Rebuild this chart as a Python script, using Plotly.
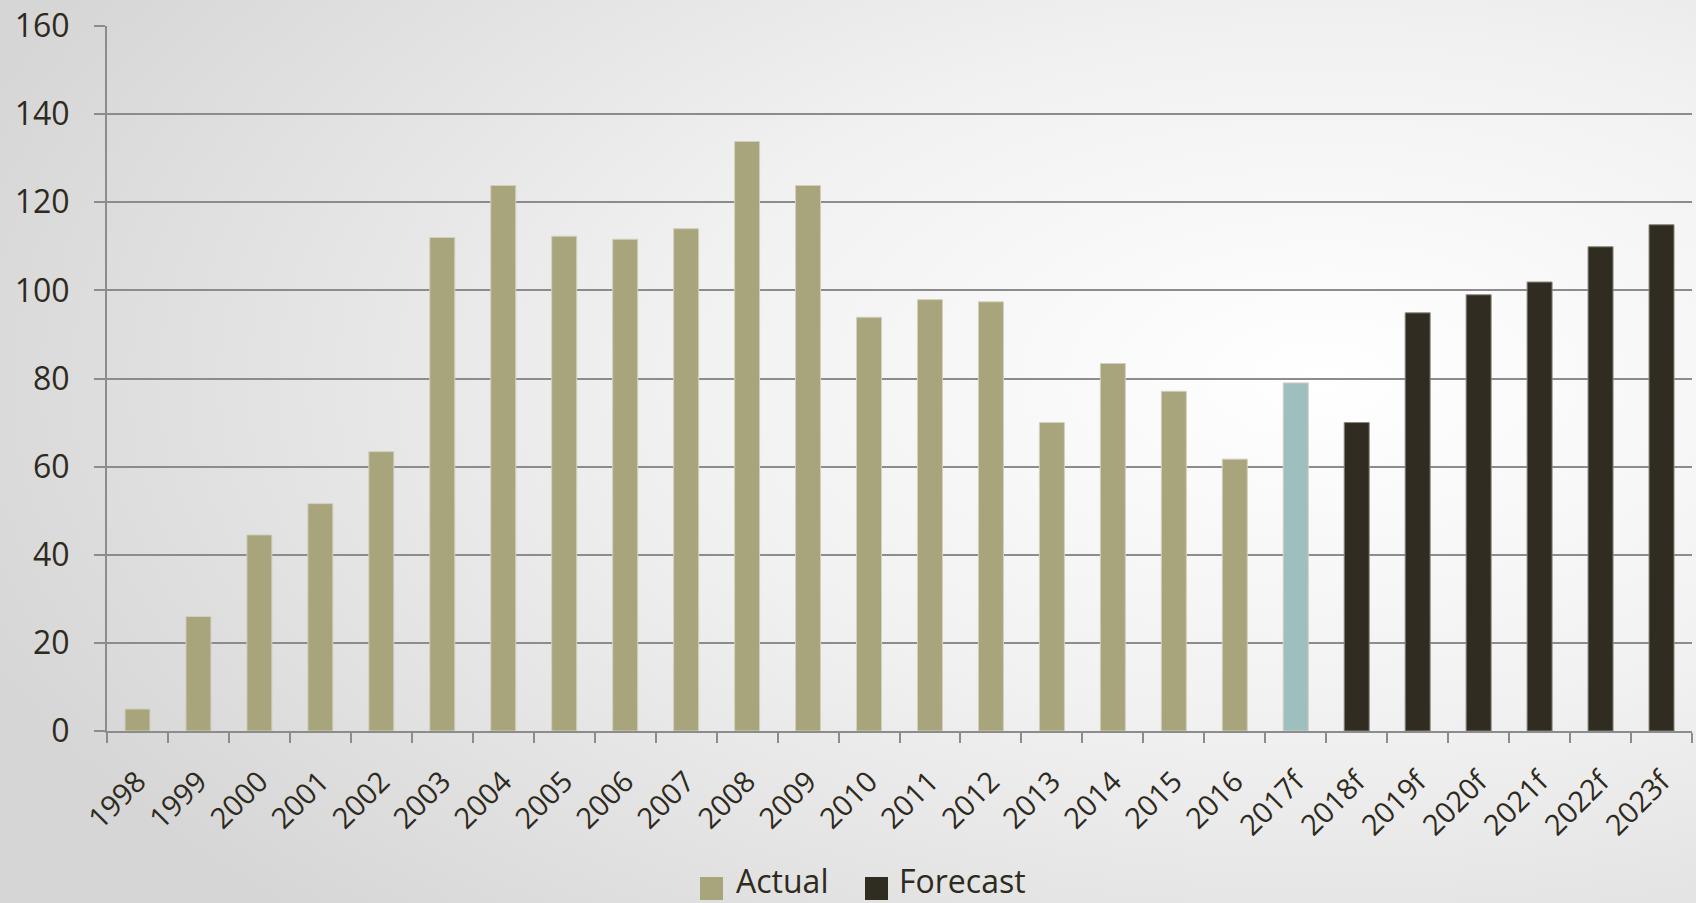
import base64
import plotly.graph_objects as go

categories = ["1998", "1999", "2000", "2001", "2002", "2003", "2004", "2005", "2006",
              "2007", "2008", "2009", "2010", "2011", "2012", "2013", "2014", "2015",
              "2016", "2017f", "2018f", "2019f", "2020f", "2021f", "2022f", "2023f"]

actual_cats = categories[:20]
actual_vals = [5, 26, 44.5, 51.6, 63.4, 112, 123.8, 112.3, 111.6, 114, 133.8, 123.8,
               93.9, 97.9, 97.4, 70, 83.4, 77.1, 61.7, 79]
forecast_cats = categories[20:]
forecast_vals = [70, 94.9, 99, 101.9, 109.9, 114.9]

y_ticks = [0, 20, 40, 60, 80, 100, 120, 140, 160]
legend_names = ["Actual", "Forecast"]

ACTUAL = "#a8a47c"
EST = "#9dbfbe"
FORE = "#302c21"
TXT = "#2e2a20"
GRID = "#8c8c8c"

actual_colors = [ACTUAL] * (len(actual_cats) - 1) + [EST]

svg = """<svg xmlns='http://www.w3.org/2000/svg' width='1696' height='903' viewBox='0 0 1696 903' preserveAspectRatio='none'>
<defs><radialGradient id='g' cx='0.78' cy='0.42' r='0.85' gradientUnits='objectBoundingBox'>
<stop offset='0' stop-color='#ffffff'/>
<stop offset='0.45' stop-color='#f1f1f1'/>
<stop offset='1' stop-color='#d6d6d6'/>
</radialGradient></defs>
<rect width='1696' height='903' fill='url(#g)'/></svg>"""
bg_uri = "data:image/svg+xml;base64," + base64.b64encode(svg.encode()).decode()

fig = go.Figure()
fig.add_trace(go.Bar(
    x=actual_cats, y=actual_vals, name="Actual", showlegend=False,
    marker=dict(color=actual_colors, line=dict(color="#d2d0bd", width=1)),
))
fig.add_trace(go.Bar(
    x=forecast_cats, y=forecast_vals, name="Forecast", showlegend=False,
    marker=dict(color=FORE, line=dict(color="#8a877c", width=1)),
))

L, R, T, B = 107, 4, 26, 172
W, H = 1696, 903
pw, ph = W - L - R, H - T - B


def px_x(px):
    return (px - L) / pw


def px_y(py):
    return (H - B - py) / ph


# manual legend (large square swatches)
legend_items = [(legend_names[0], ACTUAL, 700, 735), (legend_names[1], FORE, 865, 898)]
shapes = []
annotations = []
for name, color, sq_x, tx_x in legend_items:
    shapes.append(dict(
        type="rect", xref="paper", yref="paper",
        x0=px_x(sq_x), x1=px_x(sq_x + 23), y0=px_y(900), y1=px_y(877),
        fillcolor=color, line=dict(width=0),
    ))
    annotations.append(dict(
        text=name, xref="paper", yref="paper", x=px_x(tx_x), y=px_y(903),
        xanchor="left", yanchor="bottom", showarrow=False, borderpad=0,
        font=dict(size=32, color=TXT),
    ))

fig.update_layout(
    width=W, height=H,
    margin=dict(l=L, r=R, t=T, b=B, pad=0, autoexpand=False),
    barmode="overlay",
    bargap=0.59,
    paper_bgcolor="#e6e6e6",
    plot_bgcolor="rgba(0,0,0,0)",
    font=dict(family="Open Sans, DejaVu Sans, sans-serif", color=TXT, size=27),
    showlegend=False,
    shapes=shapes,
    annotations=annotations,
    images=[dict(
        source=bg_uri, xref="paper", yref="paper",
        x=-L / pw, y=1 + T / ph, sizex=W / pw, sizey=H / ph,
        xanchor="left", yanchor="top", sizing="stretch", layer="below",
    )],
    xaxis=dict(
        categoryorder="array", categoryarray=categories,
        type="category", automargin=False,
        showgrid=False,
        showline=True, linecolor=GRID, linewidth=2,
        ticks="outside", tickson="boundaries", ticklen=10, tickcolor=GRID, tickwidth=2,
        tickangle=-45, tickfont=dict(size=29, color=TXT),
        ticklabelstandoff=20,
        range=[-0.5, len(categories) - 0.5],
    ),
    yaxis=dict(
        range=[0, 160], tickvals=y_ticks, automargin=False,
        showgrid=True, gridcolor=GRID, gridwidth=1.5,
        showline=True, linecolor=GRID, linewidth=2,
        ticks="outside", ticklen=11, tickcolor=GRID, tickwidth=2,
        tickfont=dict(size=32, color=TXT),
        ticklabelstandoff=18,
        zeroline=False,
    ),
)

fig.write_html(
    "out.html",
    config={"displayModeBar": False},
    post_script="document.body.style.margin='0';document.body.style.overflow='hidden';",
)
